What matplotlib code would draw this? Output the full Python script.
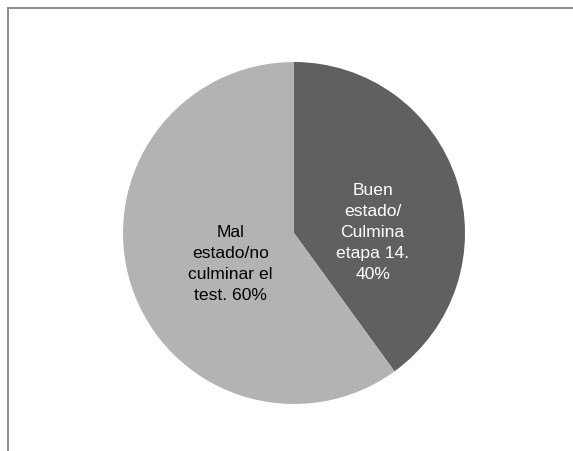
import matplotlib
matplotlib.use("Agg")
import matplotlib.pyplot as plt
from matplotlib.lines import Line2D

labels = ["Buen\nestado/\nCulmina\netapa 14.\n40%",
          "Mal\nestado/no\nculminar el\ntest. 60%"]
values = [40, 60]
colors = ["#606060", "#b3b3b3"]
text_colors = ["white", "black"]
# label anchor points inside the unit circle
label_pos = [(0.46, 0.01), (-0.37, -0.175)]

plt.rcParams["font.family"] = ["Liberation Sans", "DejaVu Sans"]

W, H = 573, 452
fig = plt.figure(figsize=(W / 100, H / 100), dpi=100)

# chart border: only the top and left edges fall inside the image
fig.add_artist(Line2D([8 / W, 8 / W], [0, 1 - 9 / H], color="#8c8c8c", lw=1.4))
fig.add_artist(Line2D([8 / W, 1], [1 - 9 / H, 1 - 9 / H], color="#8c8c8c", lw=1.4))

cx, cy, r = 294, 234, 171
ax = fig.add_axes([(cx - r) / W, 1 - (cy + r) / H, 2 * r / W, 2 * r / H])
ax.pie(values, colors=colors, startangle=90, counterclock=False,
       wedgeprops=dict(linewidth=0))
ax.set_xlim(-1, 1)
ax.set_ylim(-1, 1)
ax.set_aspect("auto")

for lab, (x, y), c in zip(labels, label_pos, text_colors):
    ax.text(x, y, lab, ha="center", va="center", color=c,
            fontsize=12.6, linespacing=1.5, multialignment="center")

fig.savefig("out.png", dpi=100)
